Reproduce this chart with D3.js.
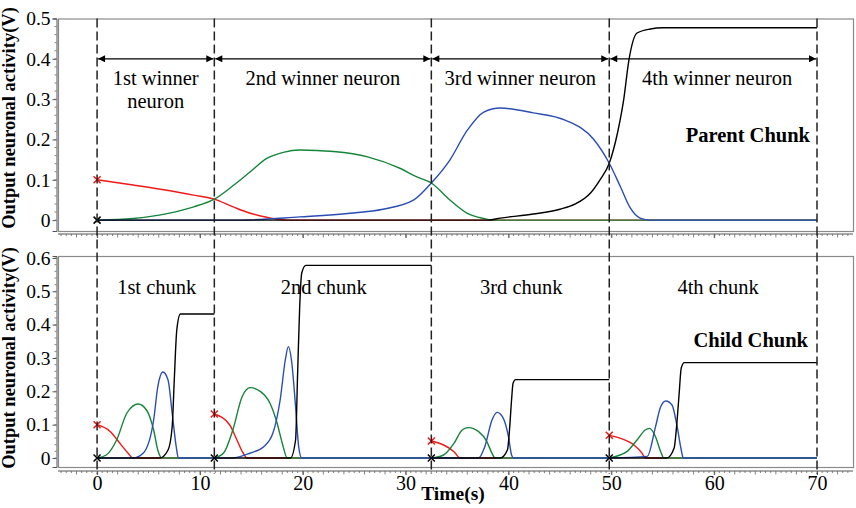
<!DOCTYPE html>
<html>
<head>
<meta charset="utf-8">
<script src="https://cdn.jsdelivr.net/npm/d3@7"></script>
<style>
  body { margin: 0; background: #fff; }
  svg { display: block; }
</style>
</head>
<body>
<div id="chart"></div>
<script>
// data: [time (s), activity (V)]

// parent chunk (top panel), one continuous run
var parentRed = [[0, 0.1], [3.5, 0.087], [6.8, 0.074], [9.4, 0.062], [11.4, 0.052], [13.3, 0.032], [14.9, 0.017], [16.5, 0.007], [17.5, 0.002], [18.5, 0], [70, 0]];
var parentGreen = [[0, 0], [3.5, 0.004], [6.8, 0.016], [9.4, 0.033], [11.4, 0.052], [13.3, 0.087], [14.9, 0.12], [16.5, 0.153], [18.1, 0.168], [19.7, 0.174], [23, 0.17], [26.3, 0.157], [29.5, 0.128], [31.1, 0.107], [32.5, 0.092], [34.3, 0.05], [36, 0.017], [37.6, 0.004], [38.5, 0], [70, 0]];
var parentBlue = [[0, 0], [14, 0], [19.7, 0.008], [24.6, 0.017], [27.8, 0.027], [30.8, 0.05], [32.5, 0.092], [34.3, 0.149], [36, 0.223], [37.6, 0.268], [39.2, 0.278], [42.4, 0.266], [45.5, 0.248], [48.3, 0.2], [49.8, 0.141], [50.9, 0.082], [51.8, 0.032], [52.8, 0.005], [53.8, 0], [70, 0]];
var parentBlack = [[0, 0], [38, 0], [39.2, 0.005], [42.4, 0.015], [45, 0.027], [46.5, 0.04], [48, 0.068], [48.9, 0.1], [49.8, 0.141], [50.6, 0.216], [51.2, 0.298], [51.7, 0.395], [52.5, 0.464], [53.8, 0.474], [55, 0.477], [70, 0.477]];

// child chunk (bottom panel), one run per chunk
var childRed = [
  [[0, 0.1], [1.3, 0.079], [2.2, 0.045], [3, 0.015], [3.5, 0], [11.4, 0]],
  [[11.4, 0.132], [12.9, 0.099], [13.6, 0.054], [14.2, 0.015], [14.6, 0], [32.5, 0]],
  [[32.5, 0.051], [33.7, 0.039], [34.7, 0.019], [35.3, 0], [49.8, 0]],
  [[49.8, 0.068], [50.9, 0.059], [52.2, 0.039], [53, 0.014], [53.3, 0], [70, 0]]
];
var childGreen = [
  [[0, 0], [0.9, 0.009], [1.9, 0.054], [2.9, 0.135], [4, 0.162], [4.8, 0.144], [5.5, 0.084], [5.9, 0.024], [6.3, 0], [11.4, 0]],
  [[11.4, 0], [12.3, 0.015], [13.2, 0.084], [14.1, 0.184], [14.9, 0.211], [15.9, 0.199], [16.8, 0.165], [17.5, 0.105], [18, 0.045], [18.5, 0], [32.5, 0]],
  [[32.5, 0], [33.7, 0.009], [34.7, 0.044], [35.5, 0.084], [36.1, 0.091], [37.1, 0.079], [37.9, 0.049], [38.4, 0.014], [38.7, 0], [49.8, 0]],
  [[49.8, 0], [51.5, 0.019], [52.5, 0.054], [53.3, 0.084], [53.7, 0.089], [54.3, 0.064], [54.8, 0.019], [55.1, 0], [70, 0]]
];
var childBlue = [
  [[0, 0], [3.5, 0], [4.5, 0.015], [5.5, 0.114], [5.9, 0.213], [6.4, 0.258], [6.9, 0.234], [7.3, 0.135], [7.7, 0.033], [7.9, 0], [11.4, 0]],
  [[11.4, 0], [13.2, 0], [14.9, 0.015], [16.2, 0.034], [17.1, 0.075], [17.8, 0.174], [18.3, 0.294], [18.6, 0.334], [18.9, 0.294], [19.3, 0.154], [19.6, 0.034], [19.9, 0], [32.5, 0]],
  [[32.5, 0], [37.1, 0], [37.7, 0.034], [38.4, 0.114], [38.9, 0.137], [39.5, 0.119], [40, 0.064], [40.3, 0.009], [40.5, 0], [49.8, 0]],
  [[49.8, 0], [53.5, 0.005], [54.3, 0.094], [54.8, 0.154], [55.3, 0.171], [55.9, 0.159], [56.4, 0.094], [56.8, 0.024], [57, 0], [70, 0]]
];
var childBlack = [
  [[0, 0], [6.1, 0], [6.9, 0.024], [7.3, 0.093], [7.5, 0.23], [7.75, 0.384], [8.1, 0.432], [11.4, 0.432]],
  [[11.4, 0], [18.8, 0], [19.3, 0.054], [19.5, 0.255], [19.7, 0.454], [19.9, 0.555], [20.3, 0.578], [32.5, 0.578]],
  [[32.5, 0], [39.2, 0], [39.9, 0.024], [40.1, 0.084], [40.3, 0.174], [40.45, 0.225], [40.7, 0.235], [49.8, 0.235]],
  [[49.8, 0], [55.4, 0], [56.1, 0.029], [56.4, 0.114], [56.6, 0.195], [56.8, 0.27], [57.1, 0.286], [70, 0.286]]
];

// chunk boundaries (s) and labels
var boundaries = [0, 11.4, 32.5, 49.8, 70];
var winnerLabels = [["1st winner", "neuron"], ["2nd winner neuron"], ["3rd winner neuron"], ["4th winner neuron"]];
var chunkLabels = ["1st chunk", "2nd chunk", "3rd chunk", "4th chunk"];
var xTicks = [0, 10, 20, 30, 40, 50, 60, 70];
var yTopTicks = [0, 0.1, 0.2, 0.3, 0.4, 0.5];
var yBotTicks = [0, 0.1, 0.2, 0.3, 0.4, 0.5, 0.6];

var width = 856,
  height = 508;
var serif = "'Liberation Serif', 'Times New Roman', serif";
var colors = { red: "#f01818", green: "#14853a", blue: "#2a4db4", black: "#000000" };

var svg = d3
  .select("#chart")
  .append("svg")
  .attr("width", width)
  .attr("height", height)
  .style("font-family", serif);

var x = d3.scaleLinear().domain([-3.8, 73.5]).range([58, 853]);
var yTop = d3.scaleLinear().domain([-0.027, 0.5]).range([231, 18.5]);
var yBot = d3.scaleLinear().domain([-0.027, 0.606]).range([467, 256]);

// arrow heads
var defs = svg.append("defs");
defs
  .append("marker")
  .attr("id", "arrow")
  .attr("viewBox", "0 0 10 10")
  .attr("refX", 10)
  .attr("refY", 5)
  .attr("markerWidth", 9)
  .attr("markerHeight", 7)
  .attr("markerUnits", "userSpaceOnUse")
  .attr("orient", "auto-start-reverse")
  .append("path")
  .attr("d", "M0,0 L10,5 L0,10 z")
  .attr("fill", "#000");

///////////////////////////////////////////////
// panel frames and axes
///////////////////////////////////////////////
function drawPanel(y, yTicks, axisY, showLabels) {
  var r = y.range();
  svg
    .append("rect")
    .attr("x", x.range()[0] + 0.5)
    .attr("y", r[1] + 0.5)
    .attr("width", x.range()[1] - x.range()[0])
    .attr("height", r[0] - r[1])
    .attr("fill", "none")
    .attr("stroke", "#8a8a8a")
    .attr("stroke-width", 1.2);

  // y axis
  var yAxis = svg
    .append("g")
    .attr("transform", "translate(56.5,0)")
    .call(d3.axisLeft(y).tickValues(yTicks).tickSize(4).tickPadding(2).tickFormat(d3.format("~g")));
  yAxis.select(".domain").attr("stroke", "#555");
  yAxis.selectAll(".tick line").attr("stroke", "#555");
  yAxis
    .selectAll(".tick text")
    .attr("font-family", serif)
    .attr("font-size", 19.5)
    .attr("fill", "#000");
  yAxis
    .selectAll(".minor")
    .data(d3.range(0, yTicks[yTicks.length - 1] + 0.0001, 0.02))
    .enter()
    .append("line")
    .attr("x1", 0)
    .attr("x2", -2)
    .attr("y1", function (d) { return y(d); })
    .attr("y2", function (d) { return y(d); })
    .attr("stroke", "#666")
    .attr("stroke-width", 0.8);

  // x axis strip under the frame
  var xAxis = svg
    .append("g")
    .attr("transform", "translate(0," + axisY + ")")
    .call(
      d3.axisBottom(x)
        .tickValues(xTicks)
        .tickSize(4)
        .tickPadding(1)
        .tickFormat(showLabels ? d3.format("d") : "")
    );
  xAxis.select(".domain").attr("stroke", "#555").attr("d", "M" + x.range()[0] + ",0H" + x.range()[1]);
  xAxis.selectAll(".tick line").attr("stroke", "#555");
  xAxis
    .selectAll(".tick text")
    .attr("font-family", serif)
    .attr("font-size", 20)
    .attr("fill", "#000");
  xAxis
    .selectAll(".minor")
    .data(d3.range(-3.5, 73.5, 0.5))
    .enter()
    .append("line")
    .attr("x1", function (d) { return x(d); })
    .attr("x2", function (d) { return x(d); })
    .attr("y1", 0)
    .attr("y2", function (d) { return d % 2 === 0 ? 3.5 : 2; })
    .attr("stroke", "#666")
    .attr("stroke-width", 0.8);
}

drawPanel(yTop, yTopTicks, 234, false);
drawPanel(yBot, yBotTicks, 471, true);

// y titles
[[yTop, 118], [yBot, 358]].forEach(function (p) {
  svg
    .append("text")
    .attr("transform", "translate(15," + p[1] + ")rotate(-90)")
    .attr("text-anchor", "middle")
    .attr("font-size", 18.5)
    .attr("font-weight", "bold")
    .text("Output neuronal activity(V)");
});

svg
  .append("text")
  .attr("x", 453)
  .attr("y", 500)
  .attr("text-anchor", "middle")
  .attr("font-size", 19.5)
  .attr("font-weight", "bold")
  .text("Time(s)");

///////////////////////////////////////////////
// curves
///////////////////////////////////////////////
function drawLines(y, segs, color) {
  var line = d3
    .line()
    .x(function (d) { return x(d[0]); })
    .y(function (d) { return y(d[1]); })
    .curve(d3.curveMonotoneX);
  svg
    .append("g")
    .selectAll("path")
    .data(segs)
    .enter()
    .append("path")
    .attr("d", line)
    .attr("fill", "none")
    .attr("stroke", color)
    .attr("stroke-width", 1.4);
}

drawLines(yTop, [parentRed], colors.red);
drawLines(yTop, [parentGreen], colors.green);
drawLines(yTop, [parentBlue], colors.blue);
drawLines(yTop, [parentBlack], colors.black);

drawLines(yBot, childRed, colors.red);
drawLines(yBot, childGreen, colors.green);
drawLines(yBot, childBlue, colors.blue);
drawLines(yBot, childBlack, colors.black);

// x markers at the start of each run
function drawCross(cx, cy, color) {
  var s = 3.5;
  svg
    .append("path")
    .attr("d", "M" + (cx - s) + "," + (cy - s) + "L" + (cx + s) + "," + (cy + s) + "M" + (cx - s) + "," + (cy + s) + "L" + (cx + s) + "," + (cy - s))
    .attr("stroke", color)
    .attr("stroke-width", 1.5);
}

drawCross(x(parentRed[0][0]), yTop(parentRed[0][1]), colors.red);
drawCross(x(parentBlack[0][0]), yTop(parentBlack[0][1]), colors.black);
childRed.forEach(function (seg) {
  drawCross(x(seg[0][0]), yBot(seg[0][1]), colors.red);
});
childBlack.forEach(function (seg) {
  drawCross(x(seg[0][0]), yBot(seg[0][1]), colors.black);
});

///////////////////////////////////////////////
// dashed chunk boundaries, arrows, labels
///////////////////////////////////////////////
svg
  .append("g")
  .selectAll("line")
  .data(boundaries)
  .enter()
  .append("line")
  .attr("x1", function (d) { return x(d); })
  .attr("x2", function (d) { return x(d); })
  .attr("y1", yTop.range()[1])
  .attr("y2", 474)
  .attr("stroke", "#222")
  .attr("stroke-width", 1.5)
  .attr("stroke-dasharray", "9,4");

var regions = d3.pairs(boundaries);

svg
  .append("g")
  .selectAll("line")
  .data(regions)
  .enter()
  .append("line")
  .attr("x1", function (d) { return x(d[0]) + 1; })
  .attr("x2", function (d) { return x(d[1]) - 1; })
  .attr("y1", yTop(0.4))
  .attr("y2", yTop(0.4))
  .attr("stroke", "#000")
  .attr("stroke-width", 1.3)
  .attr("marker-start", "url(#arrow)")
  .attr("marker-end", "url(#arrow)");

regions.forEach(function (d, i) {
  var t = svg
    .append("text")
    .attr("x", (x(d[0]) + x(d[1])) / 2 + (i === 3 ? 4 : 0))
    .attr("y", 84.5)
    .attr("text-anchor", "middle")
    .attr("font-size", 20.5);
  t.selectAll("tspan")
    .data(winnerLabels[i])
    .enter()
    .append("tspan")
    .attr("x", t.attr("x"))
    .attr("dy", function (s, j) { return j === 0 ? 0 : 23; })
    .text(function (s) { return s; });

  svg
    .append("text")
    .attr("x", (x(d[0]) + x(d[1])) / 2 + (i === 3 ? 5 : 1))
    .attr("y", 294)
    .attr("text-anchor", "middle")
    .attr("font-size", 20.5)
    .text(chunkLabels[i]);
});

svg
  .append("text")
  .attr("x", 810)
  .attr("y", 141.5)
  .attr("text-anchor", "end")
  .attr("font-size", 20.5)
  .attr("font-weight", "bold")
  .text("Parent Chunk");

svg
  .append("text")
  .attr("x", 808)
  .attr("y", 346.5)
  .attr("text-anchor", "end")
  .attr("font-size", 20.5)
  .attr("font-weight", "bold")
  .text("Child Chunk");
</script>
</body>
</html>
